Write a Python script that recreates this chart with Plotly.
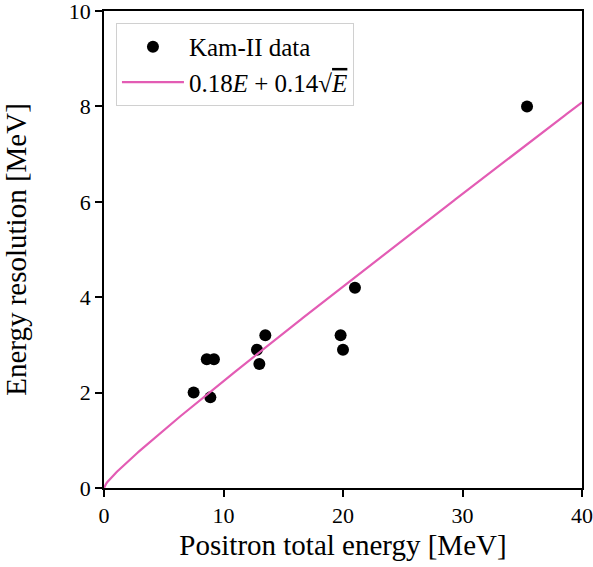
import numpy as np
import plotly.graph_objects as go

# Kamiokande-II positron events: total energy and energy resolution (MeV)
energy = [7.5, 8.6, 9.2, 8.9, 12.8, 13.5, 13.0, 19.8, 20.0, 21.0, 35.4]
resolution = [2.0, 2.7, 2.7, 1.9, 2.9, 3.2, 2.6, 3.2, 2.9, 4.2, 8.0]

# Resolution model: a*E + b*sqrt(E)
coef_lin = 0.18
coef_sqrt = 0.14

x_ticks = [0, 10, 20, 30, 40]
y_ticks = [0, 2, 4, 6, 8, 10]

E_grid = np.linspace(0, 40, 400)
model = coef_lin * E_grid + coef_sqrt * np.sqrt(E_grid)

FONT = "Liberation Serif"

fig = go.Figure()
fig.add_trace(go.Scatter(
    x=energy, y=resolution, mode="markers",
    marker=dict(color="black", size=12),
    name="Kam-II data",
))
fig.add_trace(go.Scatter(
    x=E_grid, y=model, mode="lines",
    line=dict(color="#e35cb4", width=2.2),
    name="0.18<i>E</i> + 0.14√<span style='text-decoration:overline'><i>E</i></span>",
))

axis_common = dict(
    showgrid=False, zeroline=False, showline=True, linecolor="black",
    linewidth=1.5, mirror=True, ticks="outside", ticklen=7, tickwidth=1.5,
    tickcolor="black", tickfont=dict(family=FONT, size=22, color="black"),
    automargin=False, ticklabeloverflow="allow",
)

fig.update_layout(
    width=593, height=567,
    margin=dict(l=104, r=11, t=11, b=79),
    plot_bgcolor="white", paper_bgcolor="white",
    font=dict(family=FONT, color="black"),
    showlegend=True,
    legend=dict(
        x=0.025, y=0.975, xanchor="left", yanchor="top",
        bgcolor="white", bordercolor="#d0d0d0", borderwidth=1,
        font=dict(family=FONT, size=25),
        itemwidth=62, tracegroupgap=4,
    ),
    xaxis=dict(range=[0, 40], tickvals=x_ticks,
               title=dict(text="Positron total energy [MeV]",
                          font=dict(family=FONT, size=29), standoff=8),
               **axis_common),
    yaxis=dict(range=[0, 10], tickvals=y_ticks,
               title=dict(text="Energy resolution [MeV]",
                          font=dict(family=FONT, size=29), standoff=36),
               **axis_common),
)

fig.write_html("out.html")
